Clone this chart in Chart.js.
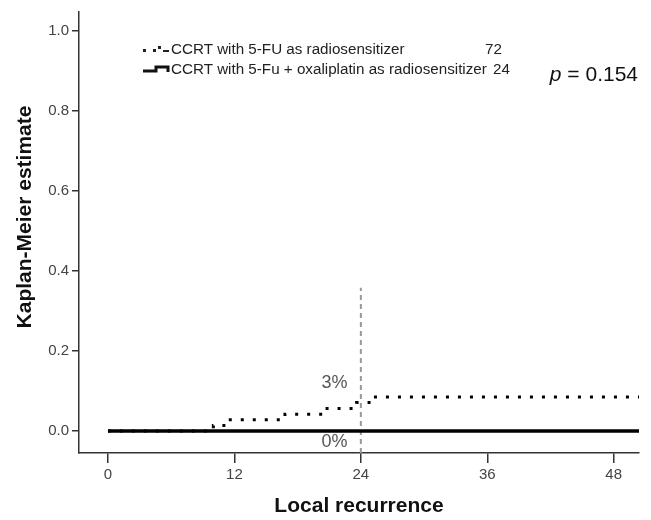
<!DOCTYPE html>
<html>
<head>
<meta charset="utf-8">
<script src="https://cdn.jsdelivr.net/npm/chart.js@4/dist/chart.umd.min.js"></script>
<style>
html,body{margin:0;padding:0;background:#fff;}
#wrap{width:651px;height:520px;position:relative;}
</style>
</head>
<body>
<div id="wrap"><canvas id="c" width="651" height="520"></canvas></div>
<script>
// ---- data ----
const seriesNames = ["CCRT with 5-FU as radiosensitizer", "CCRT with 5-Fu + oxaliplatin as radiosensitizer"];
const nPatients = [72, 24];
const times5FU = [0, 10, 11, 16.8, 20.4, 23.6, 25.2, 50.4];
const km5FU    = [0, 0.014, 0.028, 0.042, 0.056, 0.071, 0.085, 0.085];
const timesOx  = [0, 50.4];
const kmOx     = [0, 0];
const refLineX = [24, 24];
const refLineY = [-0.055, 0.358];
const xTicks = [0, 12, 24, 36, 48];
const yTicks = [0, 0.2, 0.4, 0.6, 0.8, 1.0];
const pText = "0.154";
const percentLabels = ["3%", "0%"];
const percentPos = [[21.5, 0.119], [21.5, -0.027]];

const toPts = (xs, ys) => xs.map((x, i) => ({x: x, y: ys[i]}));
const FONT = "'Liberation Sans', Arial, Helvetica, sans-serif";

const annot = {
  id: 'annot',
  afterDraw(chart) {
    const ctx = chart.ctx;
    const xs = chart.scales.x, ys = chart.scales.y;
    ctx.save();
    // percent labels
    ctx.fillStyle = '#555';
    ctx.font = '18px ' + FONT;
    ctx.textAlign = 'center';
    ctx.textBaseline = 'middle';
    percentLabels.forEach((t, i) => {
      ctx.fillText(t, xs.getPixelForValue(percentPos[i][0]), ys.getPixelForValue(percentPos[i][1]));
    });
    // p value
    ctx.fillStyle = '#111';
    ctx.font = '21px ' + FONT;
    ctx.textAlign = 'right';
    const rest = ' = ' + pText;
    const wRest = ctx.measureText(rest).width;
    ctx.fillText(rest, 638, 75);
    ctx.font = 'italic 21px ' + FONT;
    ctx.fillText('p', 638 - wRest, 75);
    // y axis title
    ctx.save();
    ctx.translate(25, 217);
    ctx.rotate(-Math.PI / 2);
    ctx.font = 'bold 21px ' + FONT;
    ctx.fillStyle = '#111';
    ctx.textAlign = 'center';
    ctx.fillText('Kaplan-Meier estimate', 0, 0);
    ctx.restore();
    // legend
    ctx.fillStyle = '#222';
    ctx.strokeStyle = '#111';
    const r1 = 50, r2 = 70;
    // row 1 icon: dotted step
    ctx.fillRect(143, r1 - 1, 3, 3);
    ctx.fillRect(153, r1 - 1, 3, 3);
    ctx.fillRect(158, r1 - 4, 3, 3);
    ctx.fillRect(163, r1, 6, 2);
    // row 2 icon: solid step
    ctx.lineWidth = 3;
    ctx.beginPath();
    ctx.moveTo(143, r2 + 1);
    ctx.lineTo(156, r2 + 1);
    ctx.lineTo(156, r2 - 3);
    ctx.lineTo(168, r2 - 3);
    ctx.lineTo(168, r2 + 2);
    ctx.stroke();
    ctx.font = '15.2px ' + FONT;
    ctx.textAlign = 'left';
    ctx.textBaseline = 'middle';
    ctx.fillText(seriesNames[0], 171, r1);
    ctx.fillText(seriesNames[1], 171, r2);
    ctx.textAlign = 'right';
    ctx.fillText(String(nPatients[0]), 502, r1);
    ctx.fillText(String(nPatients[1]), 510, r2);
    ctx.restore();
  }
};

new Chart(document.getElementById('c'), {
  type: 'line',
  data: {
    datasets: [
      {
        label: seriesNames[1],
        data: toPts(timesOx, kmOx),
        borderColor: '#000',
        borderWidth: 3.5,
        pointRadius: 0,
        stepped: 'before',
        fill: false
      },
      {
        label: seriesNames[0],
        data: toPts(times5FU, km5FU),
        borderColor: '#000',
        borderWidth: 3,
        borderDash: [3, 9],
        borderCapStyle: 'butt',
        pointRadius: 0,
        stepped: 'before',
        fill: false
      },
      {
        label: 'ref',
        data: toPts(refLineX, refLineY),
        borderColor: '#999',
        borderWidth: 2,
        borderDash: [5, 4],
        pointRadius: 0,
        fill: false
      }
    ]
  },
  options: {
    responsive: false,
    animation: false,
    events: [],
    layout: { padding: { top: 10, right: 12, left: 0, bottom: 0 } },
    plugins: { legend: { display: false }, tooltip: { enabled: false } },
    scales: {
      x: {
        type: 'linear',
        min: -2.75,
        max: 50.4,
        afterFit(s) { s.height = 67; },
        afterBuildTicks(s) { s.ticks = xTicks.map(v => ({value: v})); },
        border: { display: true, color: '#333', width: 1.5 },
        grid: { display: true, drawOnChartArea: false, drawTicks: true, tickLength: 10, color: '#333', lineWidth: 1.5 },
        ticks: { color: '#444', padding: 3, font: { family: FONT, size: 15 }, maxRotation: 0, callback: v => String(v) },
        title: { display: true, text: 'Local recurrence', color: '#111', font: { family: FONT, size: 21, weight: 'bold' }, padding: { top: 0, bottom: 1 } }
      },
      y: {
        type: 'linear',
        min: -0.055,
        max: 1.047,
        afterFit(s) { s.width = 79; },
        afterBuildTicks(s) { s.ticks = yTicks.map(v => ({value: v})); },
        border: { display: true, color: '#333', width: 1.5 },
        grid: { display: true, drawOnChartArea: false, drawTicks: true, tickLength: 7, color: '#333', lineWidth: 1.5 },
        ticks: { color: '#444', padding: 3, font: { family: FONT, size: 15 }, callback: v => Number(v).toFixed(1) }
      }
    }
  },
  plugins: [annot]
});
</script>
</body>
</html>
